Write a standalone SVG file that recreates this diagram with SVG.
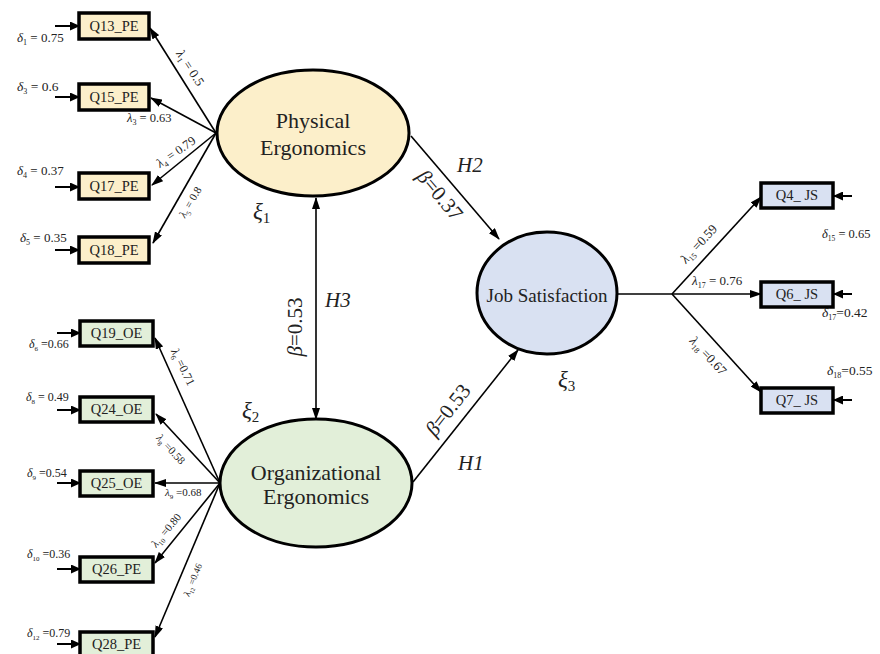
<svg xmlns="http://www.w3.org/2000/svg" width="880" height="654" viewBox="0 0 880 654" font-family="'Liberation Serif', 'Times New Roman', serif">
<style>
svg, text, tspan{font-family:"Liberation Serif","Times New Roman",serif}
text{fill:#222}
.g{font-style:italic}
.box{stroke:#000;stroke-width:3.5}
.pe{fill:#FCEFCA}
.oe{fill:#E2EFD9}
.js{fill:#D9E1F2}
.lat{stroke:#000;stroke-width:3}
.ln{stroke:#000;stroke-width:1.6;fill:none;marker-end:url(#ah)}
.sm{stroke:#000;stroke-width:2;marker-end:url(#ah2)}
.bt{font-size:14.5px;text-anchor:middle}
.lv{font-size:22px;text-anchor:middle}
</style>
<defs>
<marker id="ah" markerWidth="12" markerHeight="8" refX="11" refY="4" orient="auto-start-reverse" markerUnits="userSpaceOnUse"><path d="M0,0 L12,4 L0,8 z" fill="#000"/></marker>
<marker id="ah2" markerWidth="10" markerHeight="9" refX="9" refY="4.5" orient="auto" markerUnits="userSpaceOnUse"><path d="M0,0 L10,4.5 L0,9 z" fill="#000"/></marker>
</defs>

<g id="connectors">
<line class="ln" x1="216" y1="133" x2="150" y2="28"/>
<line class="ln" x1="216" y1="133" x2="151" y2="98"/>
<line class="ln" x1="216" y1="133" x2="152" y2="185"/>
<line class="ln" x1="216" y1="133" x2="153" y2="243"/>
<line class="ln" x1="220" y1="483" x2="155" y2="338"/>
<line class="ln" x1="220" y1="483" x2="156" y2="414"/>
<line class="ln" x1="220" y1="483" x2="155" y2="483"/>
<line class="ln" x1="220" y1="483" x2="155" y2="563"/>
<line class="ln" x1="220" y1="483" x2="155" y2="637"/>
<line class="ln" x1="617" y1="294" x2="761" y2="294"/>
<line class="ln" x1="672" y1="294" x2="761" y2="197"/>
<line class="ln" x1="672" y1="294" x2="761" y2="392"/>
<line class="ln" x1="411" y1="136" x2="499" y2="239"/>
<line class="ln" x1="413" y1="482" x2="518" y2="350"/>
<line class="ln" x1="316" y1="198" x2="316" y2="419" marker-start="url(#ah)"/>
<line class="sm" x1="55" y1="26" x2="79" y2="26"/>
<line class="sm" x1="55" y1="97" x2="79" y2="97"/>
<line class="sm" x1="55" y1="187" x2="79" y2="187"/>
<line class="sm" x1="55" y1="250" x2="79" y2="250"/>
<line class="sm" x1="57" y1="333" x2="80" y2="333"/>
<line class="sm" x1="57" y1="410" x2="80" y2="410"/>
<line class="sm" x1="57" y1="483" x2="80" y2="483"/>
<line class="sm" x1="57" y1="569" x2="80" y2="569"/>
<line class="sm" x1="57" y1="644" x2="80" y2="644"/>
<line class="sm" x1="852" y1="196" x2="834" y2="196"/>
<line class="sm" x1="852" y1="294" x2="834" y2="294"/>
<line class="sm" x1="852" y1="400" x2="834" y2="400"/>
</g>

<g id="labels">
<text transform="translate(190,68) rotate(57)" y="4" font-size="13" text-anchor="middle"><tspan class="g">λ</tspan><tspan font-size="8" dy="3">1</tspan><tspan dy="-3"> = 0.5</tspan></text>
<text x="127" y="122" font-size="12.5"><tspan class="g">λ</tspan><tspan font-size="8" dy="3">3</tspan><tspan dy="-3"> = 0.63</tspan></text>
<text transform="translate(176,152) rotate(-35)" y="4" font-size="12.5" text-anchor="middle"><tspan class="g">λ</tspan><tspan font-size="8" dy="3">4</tspan><tspan dy="-3"> = 0.79</tspan></text>
<text transform="translate(190,202) rotate(-60)" y="4" font-size="11" text-anchor="middle"><tspan class="g">λ</tspan><tspan font-size="7" dy="3">5</tspan><tspan dy="-3"> = 0.8</tspan></text>
<text transform="translate(183,367) rotate(64)" y="4" font-size="12" text-anchor="middle"><tspan class="g">λ</tspan><tspan font-size="7.5" dy="3">6</tspan><tspan dy="-3"> =0.71</tspan></text>
<text transform="translate(171,449) rotate(47)" y="4" font-size="11" text-anchor="middle"><tspan class="g">λ</tspan><tspan font-size="7" dy="3">8</tspan><tspan dy="-3"> =0.58</tspan></text>
<text x="165" y="496" font-size="11"><tspan class="g">λ</tspan><tspan font-size="7" dy="3">9</tspan><tspan dy="-3"> =0.68</tspan></text>
<text transform="translate(166,530) rotate(-50)" y="4" font-size="11" text-anchor="middle"><tspan class="g">λ</tspan><tspan font-size="7" dy="3">10</tspan><tspan dy="-3"> =0.80</tspan></text>
<text transform="translate(193,580) rotate(-68)" y="3" font-size="9.5" text-anchor="middle"><tspan class="g">λ</tspan><tspan font-size="6" dy="2.5">12</tspan><tspan dy="-2.5"> =0.46</tspan></text>
<text transform="translate(699,244) rotate(-47)" y="4" font-size="13" text-anchor="middle"><tspan class="g">λ</tspan><tspan font-size="8" dy="3">15</tspan><tspan dy="-3"> =0.59</tspan></text>
<text x="692" y="285" font-size="13"><tspan class="g">λ</tspan><tspan font-size="8" dy="3">17</tspan><tspan dy="-3"> = 0.76</tspan></text>
<text transform="translate(708,356) rotate(47)" y="4" font-size="13" text-anchor="middle"><tspan class="g">λ</tspan><tspan font-size="8" dy="3">18</tspan><tspan dy="-3"> =0.67</tspan></text>

<text x="17" y="42" font-size="13"><tspan class="g">δ</tspan><tspan font-size="8" dy="3">1</tspan><tspan dy="-3"> = 0.75</tspan></text>
<text x="17" y="91" font-size="13.5"><tspan class="g">δ</tspan><tspan font-size="8" dy="3">3</tspan><tspan dy="-3"> = 0.6</tspan></text>
<text x="17" y="175" font-size="13"><tspan class="g">δ</tspan><tspan font-size="8" dy="3">4</tspan><tspan dy="-3"> = 0.37</tspan></text>
<text x="20" y="242" font-size="13"><tspan class="g">δ</tspan><tspan font-size="8" dy="3">5</tspan><tspan dy="-3"> = 0.35</tspan></text>
<text x="29" y="348" font-size="12"><tspan class="g">δ</tspan><tspan font-size="7" dy="3">6</tspan><tspan dy="-3"> =0.66</tspan></text>
<text x="26" y="401" font-size="12"><tspan class="g">δ</tspan><tspan font-size="7" dy="3">8</tspan><tspan dy="-3"> = 0.49</tspan></text>
<text x="27" y="477" font-size="12"><tspan class="g">δ</tspan><tspan font-size="7" dy="3">9</tspan><tspan dy="-3"> =0.54</tspan></text>
<text x="27" y="558" font-size="12"><tspan class="g">δ</tspan><tspan font-size="7" dy="3">10</tspan><tspan dy="-3"> =0.36</tspan></text>
<text x="27" y="637" font-size="12"><tspan class="g">δ</tspan><tspan font-size="7" dy="3">12</tspan><tspan dy="-3"> =0.79</tspan></text>
<text x="822" y="238" font-size="12.5"><tspan class="g">δ</tspan><tspan font-size="7.5" dy="3">15</tspan><tspan dy="-3"> = 0.65</tspan></text>
<text x="822" y="317" font-size="13.5"><tspan class="g">δ</tspan><tspan font-size="8" dy="3">17</tspan><tspan dy="-3">=0.42</tspan></text>
<text x="827" y="375" font-size="13.5"><tspan class="g">δ</tspan><tspan font-size="8" dy="3">18</tspan><tspan dy="-3">=0.55</tspan></text>

<text transform="translate(440,195) rotate(50)" y="7" font-size="21" text-anchor="middle"><tspan class="g">β</tspan>=0.37</text>
<text transform="translate(295,327) rotate(-90)" y="7" font-size="21" text-anchor="middle"><tspan class="g">β</tspan>=0.53</text>
<text transform="translate(448,410) rotate(-52)" y="7" font-size="21" text-anchor="middle"><tspan class="g">β</tspan>=0.53</text>
<text class="g" x="457" y="172" font-size="21">H2</text>
<text class="g" x="325" y="307" font-size="21">H3</text>
<text class="g" x="458" y="470" font-size="21">H1</text>
<text x="253" y="219" font-size="23"><tspan class="g">ξ</tspan><tspan font-size="15" dy="4">1</tspan></text>
<text x="242" y="418" font-size="23"><tspan class="g">ξ</tspan><tspan font-size="15" dy="4">2</tspan></text>
<text x="558" y="387" font-size="23"><tspan class="g">ξ</tspan><tspan font-size="15" dy="4">3</tspan></text>
</g>

<g id="PE">
<ellipse class="lat pe" cx="313" cy="133" rx="96" ry="63"/>
<text class="lv" x="313" y="128">Physical</text>
<text class="lv" x="313" y="155">Ergonomics</text>
</g>
<g id="OE">
<ellipse class="lat oe" cx="316" cy="483" rx="96" ry="64"/>
<text class="lv" x="316" y="480">Organizational</text>
<text class="lv" x="316" y="504">Ergonomics</text>
</g>
<g id="JS">
<ellipse class="lat js" cx="547" cy="293" rx="70" ry="61"/>
<text x="547" y="302" font-size="19" text-anchor="middle">Job Satisfaction</text>
</g>

<g id="Q13_PE"><rect class="box pe" x="79" y="13" width="70" height="26"/><text class="bt" x="114" y="31">Q13_PE</text></g>
<g id="Q15_PE"><rect class="box pe" x="79" y="84" width="70" height="26"/><text class="bt" x="114" y="102">Q15_PE</text></g>
<g id="Q17_PE"><rect class="box pe" x="79" y="173" width="70" height="26"/><text class="bt" x="114" y="191">Q17_PE</text></g>
<g id="Q18_PE"><rect class="box pe" x="79" y="237" width="70" height="26"/><text class="bt" x="114" y="255">Q18_PE</text></g>
<g id="Q19_OE"><rect class="box oe" x="80" y="321" width="73" height="25"/><text class="bt" x="116.5" y="338">Q19_OE</text></g>
<g id="Q24_OE"><rect class="box oe" x="80" y="397" width="73" height="25"/><text class="bt" x="116.5" y="414">Q24_OE</text></g>
<g id="Q25_OE"><rect class="box oe" x="80" y="471" width="73" height="25"/><text class="bt" x="116.5" y="488">Q25_OE</text></g>
<g id="Q26_PE"><rect class="box oe" x="80" y="557" width="73" height="25"/><text class="bt" x="116.5" y="574">Q26_PE</text></g>
<g id="Q28_PE"><rect class="box oe" x="80" y="632" width="73" height="25"/><text class="bt" x="116.5" y="649">Q28_PE</text></g>
<g id="Q4_JS"><rect class="box js" x="761" y="183" width="72" height="25"/><text class="bt" x="797" y="200">Q4_ JS</text></g>
<g id="Q6_JS"><rect class="box js" x="761" y="282" width="72" height="25"/><text class="bt" x="797" y="299">Q6_ JS</text></g>
<g id="Q7_JS"><rect class="box js" x="761" y="388" width="72" height="25"/><text class="bt" x="797" y="405">Q7_ JS</text></g>
</svg>
